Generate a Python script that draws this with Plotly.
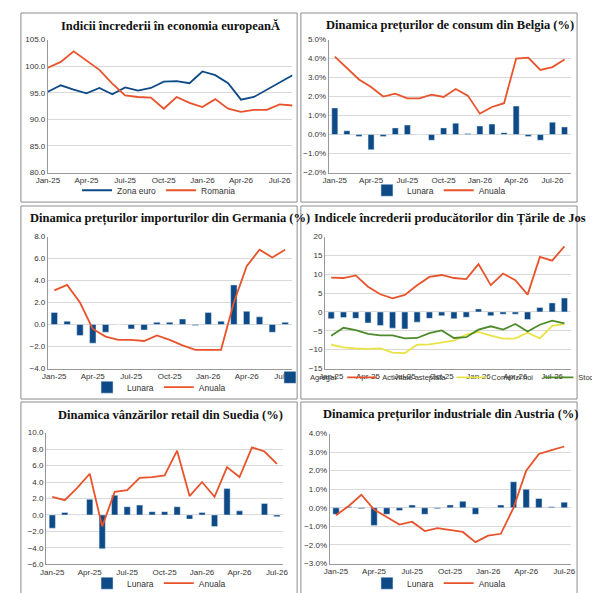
import plotly.graph_objects as go

months = ["Jan-25", "Feb-25", "Mar-25", "Apr-25", "May-25", "Jun-25", "Jul-25", "Aug-25", "Sep-25", "Oct-25",
          "Nov-25", "Dec-25", "Jan-26", "Feb-26", "Mar-26", "Apr-26", "May-26", "Jun-26", "Jul-26", "Aug-26"]

# 1. Indicii increderii in economia europeana
zona_euro = [95.2, 96.4, 95.6, 94.9, 95.9, 94.7, 96.0, 95.4, 95.9, 97.1, 97.2, 96.8, 99.0, 98.3, 96.8, 93.7, 94.2, 95.6, 97.0, 98.3]
romania = [99.7, 100.8, 102.8, 101.0, 99.3, 96.7, 94.5, 94.2, 94.1, 92.0, 94.2, 93.1, 92.3, 93.8, 92.0, 91.4, 91.8, 91.8, 92.8, 92.6]

# 2. Belgia preturi consum (%)
be_lunara = [1.4, 0.2, -0.1, -0.8, -0.1, 0.35, 0.5, 0.0, -0.3, 0.35, 0.6, 0.05, 0.45, 0.55, 0.1, 1.5, -0.1, -0.3, 0.65, 0.4]
be_anuala = [4.1, 3.5, 2.9, 2.5, 2.0, 2.15, 1.9, 1.9, 2.1, 1.98, 2.4, 2.05, 1.1, 1.45, 1.65, 4.0, 4.05, 3.4, 3.55, 3.95]

# 3. Germania preturi import (%)
de_lunara = [1.1, 0.3, -1.0, -1.7, -0.7, 0.0, -0.4, -0.5, 0.2, 0.2, 0.5, -0.1, 1.1, 0.3, 3.6, 1.2, 0.7, -0.7, 0.2]
de_anuala = [3.1, 3.6, 2.0, -0.4, -1.1, -1.4, -1.4, -1.5, -1.0, -1.4, -1.9, -2.3, -2.3, -2.3, 2.0, 5.3, 6.8, 6.1, 6.8]

# 4. Tarile de Jos incredere producatori
nl_agregat = [-1.8, -1.5, -1.7, -2.9, -3.6, -4.3, -4.5, -2.7, -1.7, -1.0, -1.8, -1.4, 0.8, -1.0, -0.6, -0.6, -2.0, 1.2, 2.4, 3.7]
nl_activitate = [9.1, 9.0, 9.7, 6.7, 4.7, 3.6, 4.5, 7.1, 9.3, 9.8, 9.0, 8.7, 12.7, 7.1, 10.2, 8.4, 4.6, 14.6, 13.6, 17.4]
nl_comenzi = [-8.7, -9.4, -9.7, -9.8, -9.7, -10.8, -10.9, -8.7, -8.6, -8.1, -7.6, -6.0, -5.3, -6.3, -7.1, -7.0, -5.5, -7.0, -3.7, -3.2]
nl_stocuri = [-6.3, -4.2, -4.8, -5.8, -6.2, -6.2, -7.0, -6.9, -5.6, -4.9, -6.9, -6.7, -4.7, -3.8, -4.7, -3.2, -5.2, -3.4, -2.3, -3.0]

# 5. Suedia vanzari retail (%)
se_lunara = [-1.6, 0.3, 0.0, 1.9, -4.1, 2.4, 1.0, 1.2, 0.4, 0.4, 1.0, -0.5, 0.3, -1.4, 3.2, 0.5, 0.0, 1.4, -0.2]
se_anuala = [2.2, 1.8, 3.3, 5.0, -1.4, 2.8, 3.0, 4.5, 4.6, 4.8, 7.8, 2.3, 4.0, 2.2, 5.8, 4.6, 8.2, 7.7, 6.2]

# 6. Austria preturi industriale (%)
at_lunara = [-0.35, 0.05, -0.05, -0.95, -0.35, -0.15, 0.15, -0.35, -0.05, 0.15, 0.35, -0.35, 0.0, 0.15, 1.4, 1.0, 0.5, 0.05, 0.3]
at_anuala = [-0.4, 0.1, 0.7, -0.1, -0.5, -0.9, -0.75, -1.25, -1.1, -1.2, -1.3, -1.85, -1.5, -1.4, 0.0, 2.0, 2.9, 3.1, 3.3]

NAVY = "#0d4a86"
RED = "#e8532b"
YELLOW = "#e9e34a"
GREEN = "#4f8a2a"
W, H = 600, 593

fig = go.Figure()

panels = [
    dict(box=(1, 1, 298, 193), plot=(30, 293, 28, 163), title="Indicii încrederii în economia europeanĂ",
         yr=[80, 105], dt=5, fmt=".1f", n=20),
    dict(box=(302, 1, 599, 193), plot=(332, 592, 28, 163), title="Dinamica prețurilor de consum din Belgia (%)",
         yr=[-2, 5], dt=1, fmt=".1f", suf="%", n=20),
    dict(box=(1, 197, 298, 393), plot=(30, 292, 228, 362), title="Dinamica prețurilor importurilor din Germania (%)",
         yr=[-4, 8], dt=2, fmt=".1f", n=19),
    dict(box=(302, 197, 599, 393), plot=(328, 592, 228, 362), title="Indicele încrederii producătorilor din Țările de Jos",
         yr=[-15, 20], dt=5, fmt="d", n=20),
    dict(box=(1, 396, 298, 592), plot=(28, 283, 427, 561), title="Dinamica vânzărilor retail din Suedia (%)",
         yr=[-6, 10], dt=2, fmt=".1f", n=19),
    dict(box=(302, 396, 599, 592), plot=(333, 592, 428, 560), title="Dinamica prețurilor industriale din Austria (%)",
         yr=[-3, 4], dt=1, fmt=".1f", suf="%", n=19),
]

series = [
    [("line", "Zona euro", zona_euro, NAVY), ("line", "Romania", romania, RED)],
    [("bar", "Lunara", be_lunara, NAVY), ("line", "Anuala", be_anuala, RED)],
    [("bar", "Lunara", de_lunara, NAVY), ("line", "Anuala", de_anuala, RED)],
    [("bar", "Agregat", nl_agregat, NAVY), ("line", "Activitate asteptata", nl_activitate, RED),
     ("line", "Comenzi noi", nl_comenzi, YELLOW), ("line", "Stocuri", nl_stocuri, GREEN)],
    [("bar", "Lunara", se_lunara, NAVY), ("line", "Anuala", se_anuala, RED)],
    [("bar", "Lunara", at_lunara, NAVY), ("line", "Anuala", at_anuala, RED)],
]

layout = {}
for i, (p, ser) in enumerate(zip(panels, series), start=1):
    x0, x1, y0, y1 = p["plot"]
    n = p["n"]
    xs = list(range(n))
    xa = "xaxis" if i == 1 else f"xaxis{i}"
    ya = "yaxis" if i == 1 else f"yaxis{i}"
    lg = "legend" if i == 1 else f"legend{i}"
    only_lines = all(s[0] == "line" for s in ser)
    xr = [0, n - 1] if only_lines else [-0.5, n - 0.5]
    layout[xa] = dict(domain=[x0 / W, x1 / W], anchor=f"y{i}", range=xr,
                      tickvals=list(range(0, n, 3)), ticktext=months[0:n:3],
                      tickfont=dict(size=8, color="#333"), showgrid=False,
                      showline=True, linecolor="#999", ticks="", zeroline=False)
    layout[ya] = dict(domain=[1 - y1 / H, 1 - y0 / H], anchor=f"x{i}", range=p["yr"], dtick=p["dt"],
                      tickformat=p["fmt"], ticksuffix=p.get("suf", ""),
                      tickfont=dict(size=8, color="#333"), gridcolor="#d9d9d9",
                      showline=True, linecolor="#999", zeroline=False)
    bx0, by0, bx1, by1 = p["box"]
    many = len(ser) > 2
    layout[lg] = dict(orientation="h", x=(bx0 + bx1) / 2 / W, xanchor="center",
                      y=1 - (by1 - (22 if many else 12)) / H, yanchor="middle",
                      font=dict(size=7.5 if many else 8.5, color="#333"),
                      bgcolor="rgba(0,0,0,0)", itemwidth=30, tracegroupgap=0)
    for kind, name, vals, col in ser:
        if kind == "bar":
            fig.add_trace(go.Bar(x=xs, y=vals, name=name, marker_color=col, width=0.5,
                                 xaxis=f"x{i}", yaxis=f"y{i}", legend=lg))
        else:
            fig.add_trace(go.Scatter(x=xs, y=vals, name=name, mode="lines", line=dict(color=col, width=1.8),
                                     xaxis=f"x{i}", yaxis=f"y{i}", legend=lg))
    fig.add_shape(type="rect", xref="paper", yref="paper", x0=bx0 / W, x1=bx1 / W,
                  y0=1 - by1 / H, y1=1 - by0 / H, line=dict(color="#8c8c8c", width=1))
    fig.add_annotation(text=f"<b>{p['title']}</b>", xref="paper", yref="paper",
                       x=(bx0 + bx1) / 2 / W + 0.02, y=1 - (by0 + 13) / H, showarrow=False,
                       xanchor="center", yanchor="middle",
                       font=dict(size=12.5, family="Liberation Sans Narrow", color="#111"))

fig.update_layout(width=W, height=H, margin=dict(l=0, r=0, t=0, b=0),
                  paper_bgcolor="white", plot_bgcolor="white", bargap=0.4,
                  font=dict(family="Liberation Sans, Arial"), **layout)

fig.write_html("out.html")
